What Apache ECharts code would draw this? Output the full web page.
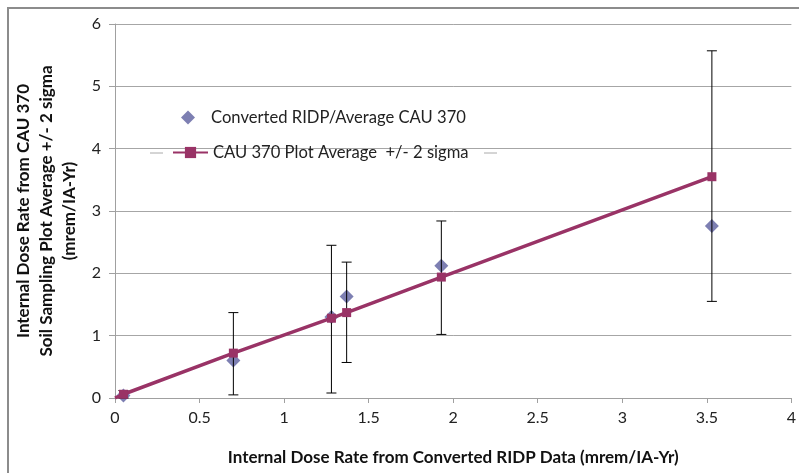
<!DOCTYPE html>
<html>
<head>
<meta charset="utf-8">
<script src="https://cdn.jsdelivr.net/npm/echarts@6/dist/echarts.min.js"></script>
<style>
  html, body { margin: 0; padding: 0; background: #fff; }
  #main { width: 799px; height: 473px; }
</style>
</head>
<body>
<div id="main"></div>
<script>
// values
var xVals = [0.05, 0.70, 1.28, 1.37, 1.93, 3.53];
var ridpAvg = [0.04, 0.60, 1.30, 1.63, 2.12, 2.76];
var plotAvg = [0.06, 0.72, 1.28, 1.37, 1.94, 3.55];
var errLow = [0.00, 0.05, 0.08, 0.57, 1.02, 1.55];
var errHigh = [0.12, 1.37, 2.45, 2.18, 2.84, 5.57];

var scatterName = 'Converted RIDP/Average CAU 370';
var lineName = 'CAU 370 Plot Average  +/- 2 sigma';
var font = 'Lato, "Open Sans", sans-serif';

var scatterData = xVals.map(function (x, i) { return [x, ridpAvg[i]]; });
var lineData = [{ value: [0, 0], symbol: 'none' }].concat(
  xVals.map(function (x, i) { return [x, plotAvg[i]]; })
);
var errData = xVals.map(function (x, i) { return [x, errLow[i], errHigh[i]]; });

var chart = echarts.init(document.getElementById('main'));

var legendText = { fontSize: 16.6, color: '#222', fontFamily: font };

var option = {
  animation: false,
  textStyle: { fontFamily: font },
  grid: { left: 115, right: 4, top: 24, bottom: 75 },
  legend: [
    {
      left: 176,
      top: 104,
      itemWidth: 14,
      itemHeight: 14,
      textStyle: Object.assign({ padding: [0, 0, 0, 11] }, legendText),
      data: [{ name: scatterName, icon: 'diamond' }]
    },
    {
      left: 167,
      top: 139,
      itemWidth: 35,
      itemHeight: 14,
      textStyle: legendText,
      data: [{ name: lineName }]
    }
  ],
  xAxis: {
    type: 'value',
    min: 0,
    max: 4,
    interval: 0.5,
    name: 'Internal Dose Rate from Converted RIDP Data (mrem/IA-Yr)',
    nameLocation: 'middle',
    nameGap: 51,
    nameTextStyle: { fontSize: 17, fontWeight: 'bold', color: '#111', fontFamily: font },
    axisLine: { lineStyle: { color: '#a0a0a0', width: 1 } },
    axisTick: { show: true, length: 5, lineStyle: { color: '#a0a0a0' } },
    axisLabel: { fontSize: 16, color: '#222', margin: 12 },
    splitLine: { show: false }
  },
  yAxis: {
    type: 'value',
    min: 0,
    max: 6,
    interval: 1,
    name: 'Internal Dose Rate from CAU 370\nSoil Sampling Plot Average +/- 2 sigma\n(mrem/IA-Yr)',
    nameLocation: 'middle',
    nameGap: 27,
    nameTextStyle: { fontSize: 17, fontWeight: 'bold', color: '#111', lineHeight: 23, fontFamily: font },
    axisLine: { show: true, lineStyle: { color: '#a0a0a0', width: 1 } },
    axisTick: { show: true, length: 6, lineStyle: { color: '#a0a0a0' } },
    axisLabel: { fontSize: 16, color: '#222', margin: 14 },
    splitLine: { lineStyle: { color: '#a6a6a6', width: 1 } }
  },
  series: [
    {
      name: scatterName,
      type: 'scatter',
      symbol: 'diamond',
      symbolSize: 14,
      itemStyle: { color: '#5d5f9f' },
      data: scatterData,
      z: 2
    },
    {
      name: 'errors',
      type: 'custom',
      z: 3,
      data: errData,
      renderItem: function (params, api) {
        var lo = api.coord([api.value(0), api.value(1)]);
        var hi = api.coord([api.value(0), api.value(2)]);
        var w = 5;
        var st = { stroke: '#000', lineWidth: 1 };
        return {
          type: 'group',
          children: [
            { type: 'line', shape: { x1: hi[0], y1: hi[1], x2: lo[0], y2: lo[1] }, style: st },
            { type: 'line', shape: { x1: hi[0] - w, y1: hi[1], x2: hi[0] + w, y2: hi[1] }, style: st },
            { type: 'line', shape: { x1: lo[0] - w, y1: lo[1], x2: lo[0] + w, y2: lo[1] }, style: st }
          ]
        };
      }
    },
    {
      name: lineName,
      type: 'line',
      symbol: 'rect',
      symbolSize: 9,
      showAllSymbol: true,
      lineStyle: { color: '#993366', width: 3.5 },
      itemStyle: { color: '#993366' },
      data: lineData,
      z: 4
    }
  ],
  graphic: [
    {
      type: 'rect',
      shape: { x: 8, y: 8, width: 900, height: 600 },
      style: { fill: 'none', stroke: '#8c8c8c', lineWidth: 2 },
      silent: true
    },
    {
      type: 'line',
      shape: { x1: 150, y1: 153, x2: 163, y2: 153 },
      style: { stroke: '#aaa', lineWidth: 1 }
    },
    {
      type: 'line',
      shape: { x1: 484, y1: 153, x2: 497, y2: 153 },
      style: { stroke: '#aaa', lineWidth: 1 }
    }
  ]
};

option && chart.setOption(option);
</script>
</body>
</html>
